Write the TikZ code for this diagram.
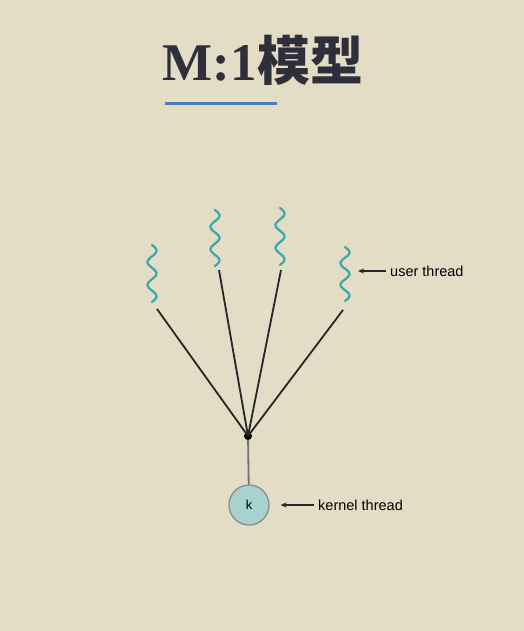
\documentclass[tikz,border=0pt]{standalone}
\usepackage{fontspec}
\setmainfont{Liberation Serif}
\setsansfont{Liberation Sans}
\newfontfamily\cjk{Noto Sans CJK SC}
\usetikzlibrary{arrows.meta, positioning}
\definecolor{paper}{HTML}{E3DDC6}
\definecolor{threadcol}{HTML}{3AA8AA}
\definecolor{kernelfill}{HTML}{A8D2CE}
\definecolor{rulecol}{HTML}{4A7CC4}
\definecolor{titlecol}{HTML}{2E2F3A}
\tikzset{
    point/.style    = {coordinate},
    link/.style     = {line width=1.8pt, draw=black!85},
    to/.style       = {-{Stealth[length=6pt,width=5pt]}, line width=1.1pt, draw=black!85},
    junction/.style = {circle, fill=black, inner sep=0pt, minimum size=8pt},
    kthread/.style  = {circle, draw=gray!90, fill=kernelfill, line width=1.3pt, minimum size=40pt, inner sep=0pt, font=\sffamily\fontsize{13}{15}\selectfont},
    tag/.style      = {font=\sffamily\fontsize{14.5}{17}\selectfont, anchor=west, inner sep=0pt},
    squiggle/.style = {draw=threadcol, line width=2.2pt, line cap=round}
}

\begin{document}
\begin{tikzpicture}[x=1pt, y=-1pt]
	\fill[paper] (0,0) rectangle (524,631);
	\useasboundingbox (0,0) rectangle (524,631);

	% title
	\node (title) [text=titlecol, font=\fontsize{53}{60}\selectfont\bfseries] at (263,60) {M:1{\cjk 模型}};
	\draw [rulecol, line width=3pt] (165,104) -- (277,104);

	% user threads
	\foreach \cx/\top/\len [count=\i] in {152/245/57, 215/210/56, 280/208/57, 345/247/54}
		\draw [squiggle] plot[domain=0:\len, samples=60, smooth, variable=\t] ({\cx+4.5*sin(\t/\len*900)}, {\top+\t});

	\node (u1) [point] at (157,309) {};
	\node (u2) [point] at (219,270) {};
	\node (u3) [point] at (281,270) {};
	\node (u4) [point] at (343,310) {};
	\node (j)  [junction] at (248,436) {};
	\node (k)  [kthread] at (249,505) {k};

	\node (ut) [tag] at (390,271) {user thread};
	\node (kt) [tag] at (318,505) {kernel thread};

	\foreach \u in {u1,u2,u3,u4}
		\draw [link] (\u) -- (j.center);
	\draw [link, draw=black!55] (j) -- (k);

	\draw [to] ([xshift=-4pt]ut.west) -- ++(-28,0);
	\draw [to] ([xshift=-4pt]kt.west) -- ([xshift=11pt]k.east);
\end{tikzpicture}
\end{document}
